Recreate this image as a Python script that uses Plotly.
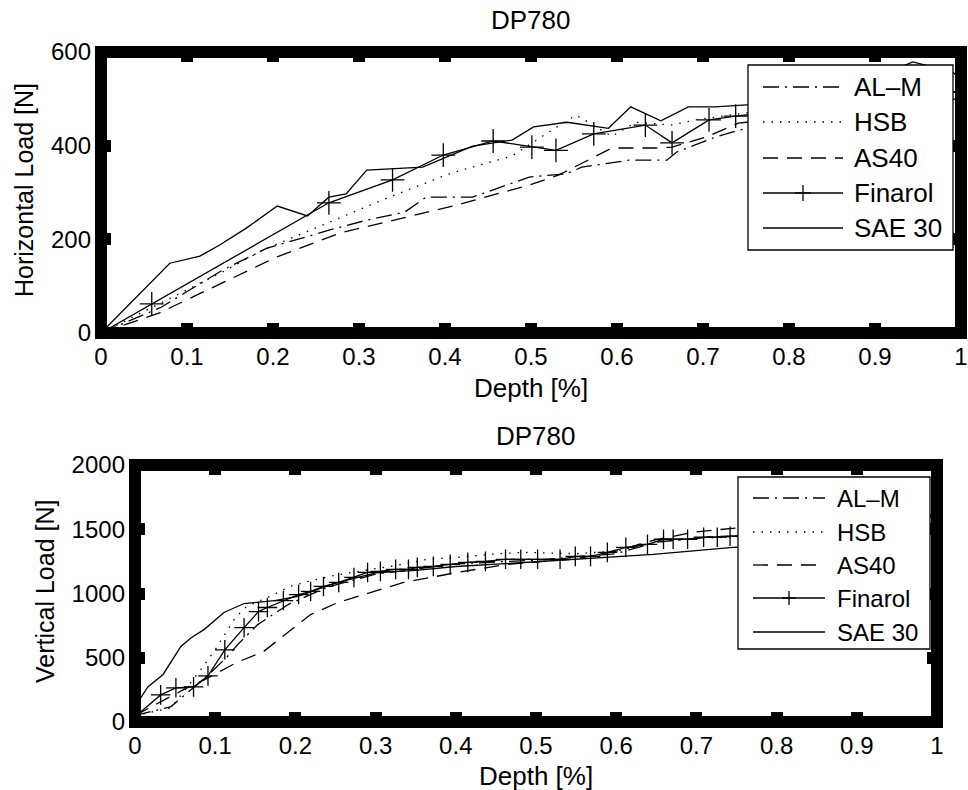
import plotly.graph_objects as go

# ---------------- data: top plot (Horizontal Load) ----------------
h_alm_x = [0, 0.07, 0.141, 0.193, 0.266, 0.309, 0.353, 0.378, 0.432, 0.498, 0.541, 0.559, 0.614, 0.658, 0.669, 0.714, 0.741, 0.85, 0.95, 1.0]
h_alm_y = [0, 55, 134, 181, 220, 241, 258, 290, 290, 333, 340, 354, 369, 369, 386, 418, 433, 470, 500, 505]

h_hsb_x = [0, 0.06, 0.141, 0.188, 0.266, 0.335, 0.408, 0.478, 0.524, 0.552, 0.564, 0.594, 0.622, 0.664, 0.691, 0.75, 0.85, 0.95, 1.0]
h_hsb_y = [0, 55, 130, 177, 237, 290, 342, 378, 433, 465, 453, 420, 450, 444, 455, 470, 490, 510, 530]

h_as40_x = [0, 0.068, 0.141, 0.204, 0.277, 0.350, 0.413, 0.498, 0.532, 0.594, 0.645, 0.664, 0.703, 0.741, 0.85, 0.95, 1.0]
h_as40_y = [0, 43, 107, 162, 213, 246, 273, 316, 337, 395, 395, 397, 418, 448, 470, 495, 500]

h_fin_x = [0, 0.059, 0.265, 0.339, 0.398, 0.456, 0.501, 0.529, 0.573, 0.633, 0.664, 0.707, 0.738, 0.80, 0.87, 0.94, 1.0]
h_fin_y = [0, 62, 278, 327, 380, 410, 397, 390, 425, 444, 406, 455, 463, 475, 490, 510, 515]

h_sae_x = [0, 0.080, 0.115, 0.138, 0.169, 0.205, 0.240, 0.265, 0.285, 0.309, 0.374, 0.432, 0.478, 0.503, 0.542, 0.590, 0.616, 0.651, 0.683, 0.714, 0.76, 0.82, 0.88, 0.944, 0.99, 1.0]
h_sae_y = [0, 149, 164, 188, 224, 271, 250, 290, 297, 348, 354, 399, 412, 440, 450, 437, 483, 453, 483, 483, 488, 500, 530, 579, 557, 544]

# ---------------- data: bottom plot (Vertical Load) ----------------
v_alm_x = [0, 0.045, 0.062, 0.085, 0.115, 0.129, 0.153, 0.191, 0.24, 0.30, 0.40, 0.50, 0.60, 0.65, 0.70, 0.75, 0.85, 0.95, 1.0]
v_alm_y = [50, 120, 211, 328, 508, 609, 758, 914, 1050, 1150, 1230, 1260, 1310, 1400, 1430, 1450, 1500, 1560, 1600]

v_hsb_x = [0, 0.045, 0.082, 0.10, 0.125, 0.139, 0.168, 0.193, 0.22, 0.248, 0.278, 0.319, 0.365, 0.402, 0.443, 0.484, 0.55, 0.60, 0.65, 0.70, 0.75, 0.85, 0.95, 1.0]
v_hsb_y = [50, 110, 406, 562, 812, 898, 977, 1055, 1100, 1140, 1172, 1211, 1266, 1281, 1305, 1320, 1310, 1330, 1400, 1430, 1440, 1500, 1560, 1600]

v_as40_x = [0, 0.03, 0.06, 0.09, 0.126, 0.16, 0.19, 0.219, 0.253, 0.294, 0.335, 0.402, 0.464, 0.55, 0.60, 0.65, 0.70, 0.75, 0.85, 0.95, 1.0]
v_as40_y = [50, 150, 250, 340, 461, 547, 695, 836, 930, 1008, 1086, 1164, 1227, 1270, 1330, 1420, 1480, 1510, 1540, 1580, 1620]

v_fin_x = [0, 0.032, 0.051, 0.073, 0.091, 0.112, 0.136, 0.154, 0.165, 0.185, 0.204, 0.219, 0.235, 0.254, 0.273, 0.290,
           0.306, 0.325, 0.341, 0.352, 0.372, 0.393, 0.415, 0.437, 0.462, 0.481, 0.502, 0.530, 0.549, 0.568, 0.589,
           0.612, 0.639, 0.659, 0.671, 0.689, 0.709, 0.726, 0.742, 0.80, 0.86, 0.92, 0.995]
v_fin_y = [40, 211, 266, 273, 359, 562, 734, 859, 891, 945, 992, 1016, 1055, 1086, 1125, 1164,
           1172, 1188, 1188, 1203, 1211, 1227, 1242, 1250, 1266, 1266, 1266, 1266, 1289, 1289, 1320,
           1359, 1383, 1422, 1422, 1422, 1438, 1438, 1445, 1480, 1520, 1560, 1610]

v_sae_x = [0, 0.016, 0.035, 0.057, 0.070, 0.086, 0.111, 0.136, 0.174, 0.203, 0.25, 0.30, 0.35, 0.40, 0.456, 0.55, 0.646, 0.746, 0.85, 0.95, 1.0]
v_sae_y = [120, 273, 370, 586, 656, 719, 852, 922, 945, 977, 1080, 1160, 1180, 1210, 1230, 1266, 1305, 1359, 1380, 1420, 1560]

series_names = ["AL\u2013M", "HSB", "AS40", "Finarol", "SAE 30"]
x_ticks = [0, 0.1, 0.2, 0.3, 0.4, 0.5, 0.6, 0.7, 0.8, 0.9, 1]
x_tick_text = ["0", "0.1", "0.2", "0.3", "0.4", "0.5", "0.6", "0.7", "0.8", "0.9", "1"]
h_y_ticks = [0, 200, 400, 600]
v_y_ticks = [0, 500, 1000, 1500, 2000]
plot_title = "DP780"
x_title = "Depth [%]"
h_y_title = "Horizontal Load [N]"
v_y_title = "Vertical Load [N]"

# ---------------- styling ----------------
W, H = 968, 790
FONT = "Liberation Sans, Arial, Helvetica, sans-serif"
LW = 1.3
DASHES = {
    "AL\u2013M": "16px,6px,2px,6px",
    "HSB": "1.5px,7px",
    "AS40": "15px,9px",
    "Finarol": "solid",
    "SAE 30": "solid",
}


def pxx(x):
    return x / W


def pyy(y):
    return 1 - y / H


fig = go.Figure()

top_data = [(h_alm_x, h_alm_y), (h_hsb_x, h_hsb_y), (h_as40_x, h_as40_y), (h_fin_x, h_fin_y), (h_sae_x, h_sae_y)]
bot_data = [(v_alm_x, v_alm_y), (v_hsb_x, v_hsb_y), (v_as40_x, v_as40_y), (v_fin_x, v_fin_y), (v_sae_x, v_sae_y)]

for (xs, ys), name in zip(top_data, series_names):
    is_fin = name == "Finarol"
    fig.add_trace(go.Scatter(
        x=xs, y=ys, xaxis="x", yaxis="y", name=name, showlegend=False,
        mode="lines+markers" if is_fin else "lines",
        line=dict(color="black", width=LW, dash=DASHES[name]),
        marker=dict(symbol="cross-thin", size=17, line=dict(color="black", width=1.3)) if is_fin else None,
    ))

for (xs, ys), name in zip(bot_data, series_names):
    is_fin = name == "Finarol"
    fig.add_trace(go.Scatter(
        x=xs, y=ys, xaxis="x2", yaxis="y2", name=name, showlegend=False,
        mode="lines+markers" if is_fin else "lines",
        line=dict(color="black", width=LW, dash=DASHES[name]),
        marker=dict(symbol="cross-thin", size=14, line=dict(color="black", width=1.3)) if is_fin else None,
    ))

TICKFONT = dict(family=FONT, size=24, color="black")
axis_common = dict(
    showgrid=False, zeroline=False, showline=False, ticks="inside", ticklen=10, tickwidth=12,
    tickcolor="black", mirror="ticks", tickfont=TICKFONT, automargin=False,
)

top_x0, top_x1, top_y0, top_y1 = 101, 961, 333, 52
bot_x0, bot_x1, bot_y0, bot_y1 = 135, 937, 722, 465

fig.update_layout(
    width=W, height=H, template="none",
    margin=dict(l=0, r=0, t=0, b=0),
    paper_bgcolor="white", plot_bgcolor="white",
    showlegend=False,
    xaxis=dict(domain=[pxx(top_x0), pxx(top_x1)], range=[0, 1], tickvals=x_ticks, ticktext=x_tick_text,
               anchor="y", ticklabelstandoff=7, **axis_common),
    yaxis=dict(domain=[pyy(top_y0), pyy(top_y1)], range=[0, 600], tickvals=h_y_ticks, anchor="x",
               ticklabelstandoff=9, **axis_common),
    xaxis2=dict(domain=[pxx(bot_x0), pxx(bot_x1)], range=[0, 1], tickvals=x_ticks, ticktext=x_tick_text,
                anchor="y2", ticklabelstandoff=7, **axis_common),
    yaxis2=dict(domain=[pyy(bot_y0), pyy(bot_y1)], range=[0, 2000], tickvals=v_y_ticks, anchor="x2",
                ticklabelstandoff=9, **axis_common),
)

shapes = []
annotations = []

# thick frames
for xr, yr in (("x domain", "y domain"), ("x2 domain", "y2 domain")):
    shapes.append(dict(type="rect", xref=xr, yref=yr, x0=0, x1=1, y0=0, y1=1,
                       line=dict(color="black", width=12), layer="above"))


# titles / axis titles
def text(x, y, s, size, angle=0):
    annotations.append(dict(x=pxx(x), y=pyy(y), xref="paper", yref="paper", text=s, showarrow=False,
                            font=dict(family=FONT, size=size, color="black"), textangle=angle,
                            xanchor="center", yanchor="middle"))


text((top_x0 + top_x1) / 2, 20, plot_title, 26)
text((top_x0 + top_x1) / 2, 388, x_title, 26)
text(24, 190, h_y_title, 25, -90)
text((bot_x0 + bot_x1) / 2, 436, plot_title, 26)
text((bot_x0 + bot_x1) / 2, 776, x_title, 26)
text(45, 592, v_y_title, 25, -90)


# custom legends
def legend(box, line_x0, line_x1, text_x, rows, font_size, cross):
    bx0, by0, bx1, by1 = box
    shapes.append(dict(type="rect", xref="paper", yref="paper", x0=pxx(bx0), x1=pxx(bx1), y0=pyy(by1), y1=pyy(by0),
                       fillcolor="white", line=dict(color="black", width=1.3), layer="above"))
    for name, ry in zip(series_names, rows):
        shapes.append(dict(type="line", xref="paper", yref="paper", x0=pxx(line_x0), x1=pxx(line_x1),
                           y0=pyy(ry), y1=pyy(ry), line=dict(color="black", width=LW, dash=DASHES[name]), layer="above"))
        if name == "Finarol":
            cx = (line_x0 + line_x1) / 2
            shapes.append(dict(type="line", xref="paper", yref="paper", x0=pxx(cx - cross), x1=pxx(cx + cross),
                               y0=pyy(ry), y1=pyy(ry), line=dict(color="black", width=1.3), layer="above"))
            shapes.append(dict(type="line", xref="paper", yref="paper", x0=pxx(cx), x1=pxx(cx),
                               y0=pyy(ry - cross), y1=pyy(ry + cross), line=dict(color="black", width=1.3), layer="above"))
        annotations.append(dict(x=pxx(text_x), y=pyy(ry), xref="paper", yref="paper", text=name, showarrow=False,
                                font=dict(family=FONT, size=font_size, color="black"),
                                xanchor="left", yanchor="middle"))


legend((748, 65, 953, 250), 763, 843, 852, [87, 122, 158, 193, 228], 26, 8)
legend((738, 477, 930, 649), 753, 825, 835, [498, 532, 565, 598, 632], 24, 7)

fig.update_layout(shapes=shapes, annotations=annotations)

fig.write_html("out.html")
